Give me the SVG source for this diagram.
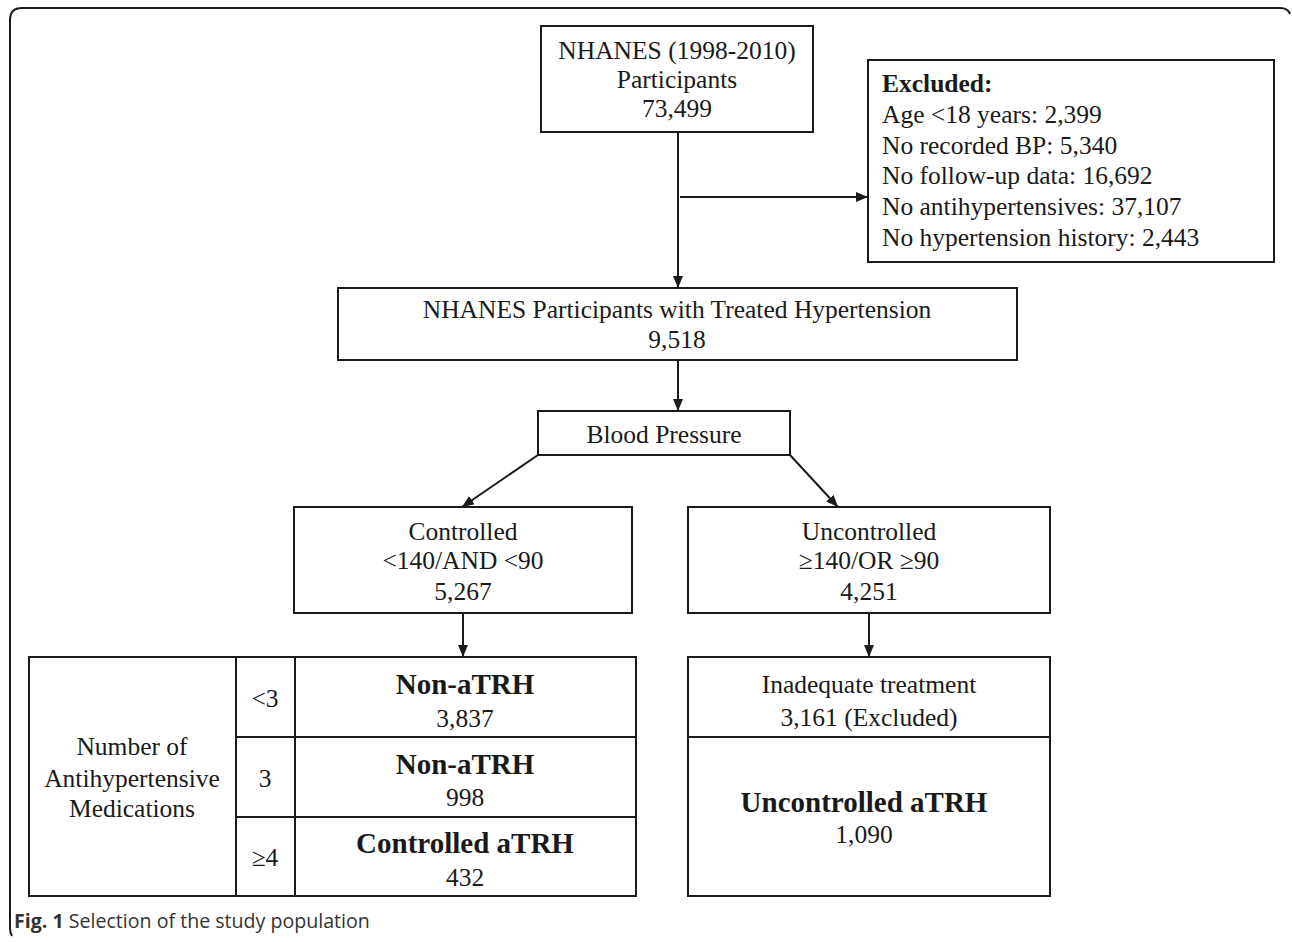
<svg xmlns="http://www.w3.org/2000/svg" width="1292" height="942" viewBox="0 0 1292 942">
<style>
.box{fill:#fff;stroke:#1a1a1a;stroke-width:2}
.ln{stroke:#1a1a1a;stroke-width:2;fill:none}
.t{font-family:"Liberation Serif","Times New Roman",serif;font-size:25.5px;fill:#1a1a1a;text-anchor:middle}
.l{text-anchor:start}
.b{font-weight:bold}
.bb{font-weight:bold;font-size:29px}
.cap{font-family:"Open Sans","Noto Sans",sans-serif;font-size:19.6px;fill:#333}
</style>
<defs>
<marker id="ah" viewBox="0 0 12 10" refX="12" refY="5" markerWidth="12" markerHeight="10" markerUnits="userSpaceOnUse" orient="auto">
<path d="M0,0 L12,5 L0,10 Z" fill="#1a1a1a"/>
</marker>
</defs>
<rect width="1292" height="942" fill="#fff"/>
<path id="frame" class="ln" d="M12,936 Q10,933 10,928 L10,20 Q10,8 22,8 L1280,8 Q1288,8 1290,14"/>
<g id="connectors">
<line class="ln" x1="678" y1="132" x2="678" y2="288" marker-end="url(#ah)"/>
<line class="ln" x1="680" y1="197" x2="868" y2="197" marker-end="url(#ah)"/>
<line class="ln" x1="678" y1="360" x2="678" y2="411" marker-end="url(#ah)"/>
<line class="ln" x1="538" y1="455" x2="462" y2="507" marker-end="url(#ah)"/>
<line class="ln" x1="790" y1="455" x2="838" y2="507" marker-end="url(#ah)"/>
<line class="ln" x1="463" y1="613" x2="463" y2="657" marker-end="url(#ah)"/>
<line class="ln" x1="869" y1="613" x2="869" y2="657" marker-end="url(#ah)"/>
</g>
<g id="nhanes">
<rect class="box" x="541" y="26" width="272" height="106"/>
<text class="t" x="677" y="59">NHANES (1998-2010)</text>
<text class="t" x="677" y="88">Participants</text>
<text class="t" x="677" y="117">73,499</text>
</g>
<g id="excluded">
<rect class="box" x="868" y="60" width="406" height="202"/>
<text class="t l b" x="882" y="92">Excluded:</text>
<text class="t l" x="882" y="123">Age &lt;18 years: 2,399</text>
<text class="t l" x="882" y="154">No recorded BP: 5,340</text>
<text class="t l" x="882" y="184">No follow-up data: 16,692</text>
<text class="t l" x="882" y="215">No antihypertensives: 37,107</text>
<text class="t l" x="882" y="246">No hypertension history: 2,443</text>
</g>
<g id="treated">
<rect class="box" x="338" y="288" width="679" height="72"/>
<text class="t" x="677" y="318">NHANES Participants with Treated Hypertension</text>
<text class="t" x="677" y="348">9,518</text>
</g>
<g id="bp">
<rect class="box" x="538" y="411" width="252" height="44"/>
<text class="t" x="664" y="443">Blood Pressure</text>
</g>
<g id="controlled">
<rect class="box" x="294" y="507" width="338" height="106"/>
<text class="t" x="463" y="540">Controlled</text>
<text class="t" x="463" y="569">&lt;140/AND &lt;90</text>
<text class="t" x="463" y="600">5,267</text>
</g>
<g id="uncontrolled">
<rect class="box" x="688" y="507" width="362" height="106"/>
<text class="t" x="869" y="540">Uncontrolled</text>
<text class="t" x="869" y="569">≥140/OR ≥90</text>
<text class="t" x="869" y="600">4,251</text>
</g>
<g id="med-table">
<rect class="box" x="29" y="657" width="607" height="239"/>
<line class="ln" x1="236" y1="657" x2="236" y2="896"/>
<line class="ln" x1="295" y1="657" x2="295" y2="896"/>
<line class="ln" x1="236" y1="737" x2="636" y2="737"/>
<line class="ln" x1="236" y1="817" x2="636" y2="817"/>
<text class="t" x="132" y="755">Number of</text>
<text class="t" x="132" y="787">Antihypertensive</text>
<text class="t" x="132" y="817">Medications</text>
<text class="t" x="265" y="707">&lt;3</text>
<text class="t" x="265" y="787">3</text>
<text class="t" x="265" y="866">≥4</text>
<text class="t bb" x="465" y="694">Non-aTRH</text>
<text class="t" x="465" y="727">3,837</text>
<text class="t bb" x="465" y="774">Non-aTRH</text>
<text class="t" x="465" y="806">998</text>
<text class="t bb" x="465" y="853">Controlled aTRH</text>
<text class="t" x="465" y="886">432</text>
</g>
<g id="uncontrolled-table">
<rect class="box" x="688" y="657" width="362" height="239"/>
<line class="ln" x1="688" y1="737" x2="1050" y2="737"/>
<text class="t" x="869" y="693">Inadequate treatment</text>
<text class="t" x="869" y="726">3,161 (Excluded)</text>
<text class="t bb" x="864" y="812">Uncontrolled aTRH</text>
<text class="t" x="864" y="843">1,090</text>
</g>
<text class="cap" x="14" y="928"><tspan font-weight="bold">Fig. 1</tspan> Selection of the study population</text>
</svg>
